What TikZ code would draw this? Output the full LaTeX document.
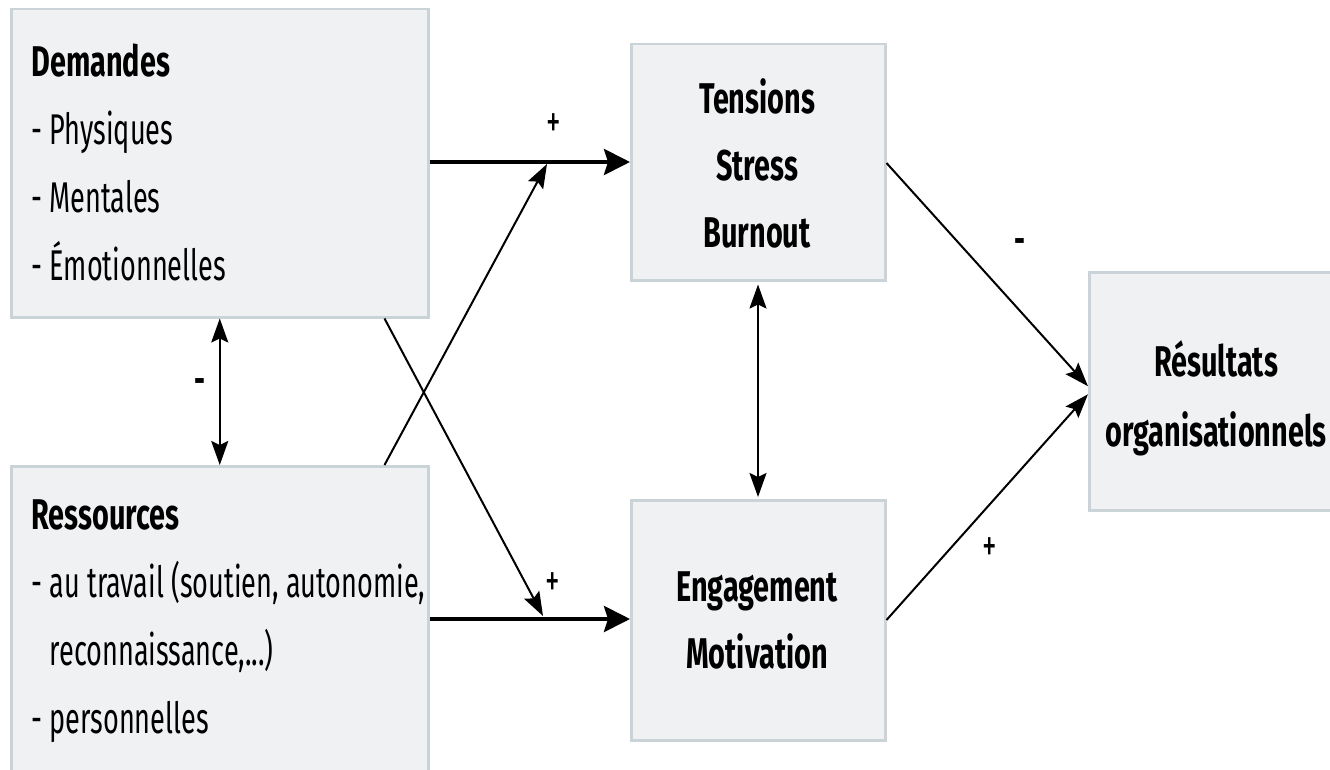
\documentclass[tikz,border=0pt]{standalone}
\usepackage{fontspec}
\setmainfont{Fira Sans}[FakeStretch=0.63,BoldFeatures={FakeStretch=0.67}]
\usetikzlibrary{arrows.meta,calc}
\definecolor{boxfill}{HTML}{F0F1F3}
\definecolor{boxline}{HTML}{CAD3D7}
\begin{document}
\begin{tikzpicture}[x=1pt,y=-1pt,
  box/.style={draw=boxline,fill=boxfill,line width=2.5pt,inner sep=0pt,anchor=north west},
  txt/.style={font=\fontsize{43}{68}\selectfont\mdseries,text=black},
  thick arr/.style={line width=4pt,-{Stealth[length=26pt,width=26pt,inset=4pt]}},
  thin arr/.style={line width=2pt,-{Stealth[length=24pt,width=17pt,inset=4pt]}},
  dbl arr/.style={line width=2pt,{Stealth[length=24pt,width=17pt,inset=4pt]}-{Stealth[length=24pt,width=17pt,inset=4pt]}},
  plussign/.style={font=\fontsize{46}{46}\selectfont\mdseries},
  minussign/.style={font=\fontsize{40}{40}\selectfont\bfseries}
]
\useasboundingbox (0,0) rectangle (1330,770);
\clip (0,0) rectangle (1330,770);
\fill[white] (0,0) rectangle (1330,770);

% boxes
\node[box,minimum width=417pt,minimum height=308pt] (dem) at (10,8) {};
\node[box,minimum width=417pt,minimum height=312pt] (res) at (10,465) {};
\node[box,minimum width=254pt,minimum height=236pt] (ten) at (630,43) {};
\node[box,minimum width=254pt,minimum height=240pt] (eng) at (630,499) {};
\node[box,minimum width=260pt,minimum height=238pt] (out) at (1088,271) {};

% texts
\node[txt,anchor=west,align=left] (demt) at (28,162) {\textbf{Demandes}\\- Physiques\\- Mentales\\- Émotionnelles};
\node[txt,anchor=west,align=left] (rest) at (28,621) {\textbf{Ressources}\\- au travail (soutien, autonomie,\\\phantom{- }reconnaissance,...)\\- personnelles};
\node[txt,align=center,font=\fontsize{43}{67}\selectfont\bfseries] (tent) at (757,163) {Tensions\\Stress\\Burnout};
\node[txt,align=center,font=\fontsize{43}{67}\selectfont\bfseries] (engt) at (757,620) {Engagement\\Motivation};
\node[txt,align=center,font=\fontsize{43}{70}\selectfont\bfseries] (outt) at (1216,398) {Résultats\\organisationnels};

% junction points on thick arrows
\coordinate (j1) at (547,164);
\coordinate (j2) at (543,616);

% main arrows
\draw[thick arr] (dem.east |- 0,162) -- (ten.west |- 0,162);
\draw[thick arr] (res.east |- 0,619) -- (eng.west |- 0,619);
\draw[thin arr] ([xshift=-45pt]res.north east) -- (j1);
\draw[thin arr] ([xshift=-45pt]dem.south east) -- (j2);
\draw[dbl arr] (dem.south) -- (res.north);
\draw[dbl arr,shorten <=3pt,shorten >=2pt] (ten.south -| 758,0) -- (eng.north -| 758,0);
\draw[thin arr] (ten.east |- 0,163) -- ([yshift=5pt]out.west);
\draw[thin arr] (eng.east |- 0,620) -- ([yshift=-3pt]out.west);

% signs
\node[plussign] (s1) at (554,126) {+};
\node[plussign] (s2) at (553,585) {+};
\node[minussign] (s3) at (200,386) {-};
\node[minussign] (s4) at (1020,246) {-};
\node[plussign] (s5) at (990,550) {+};
\end{tikzpicture}
\end{document}
